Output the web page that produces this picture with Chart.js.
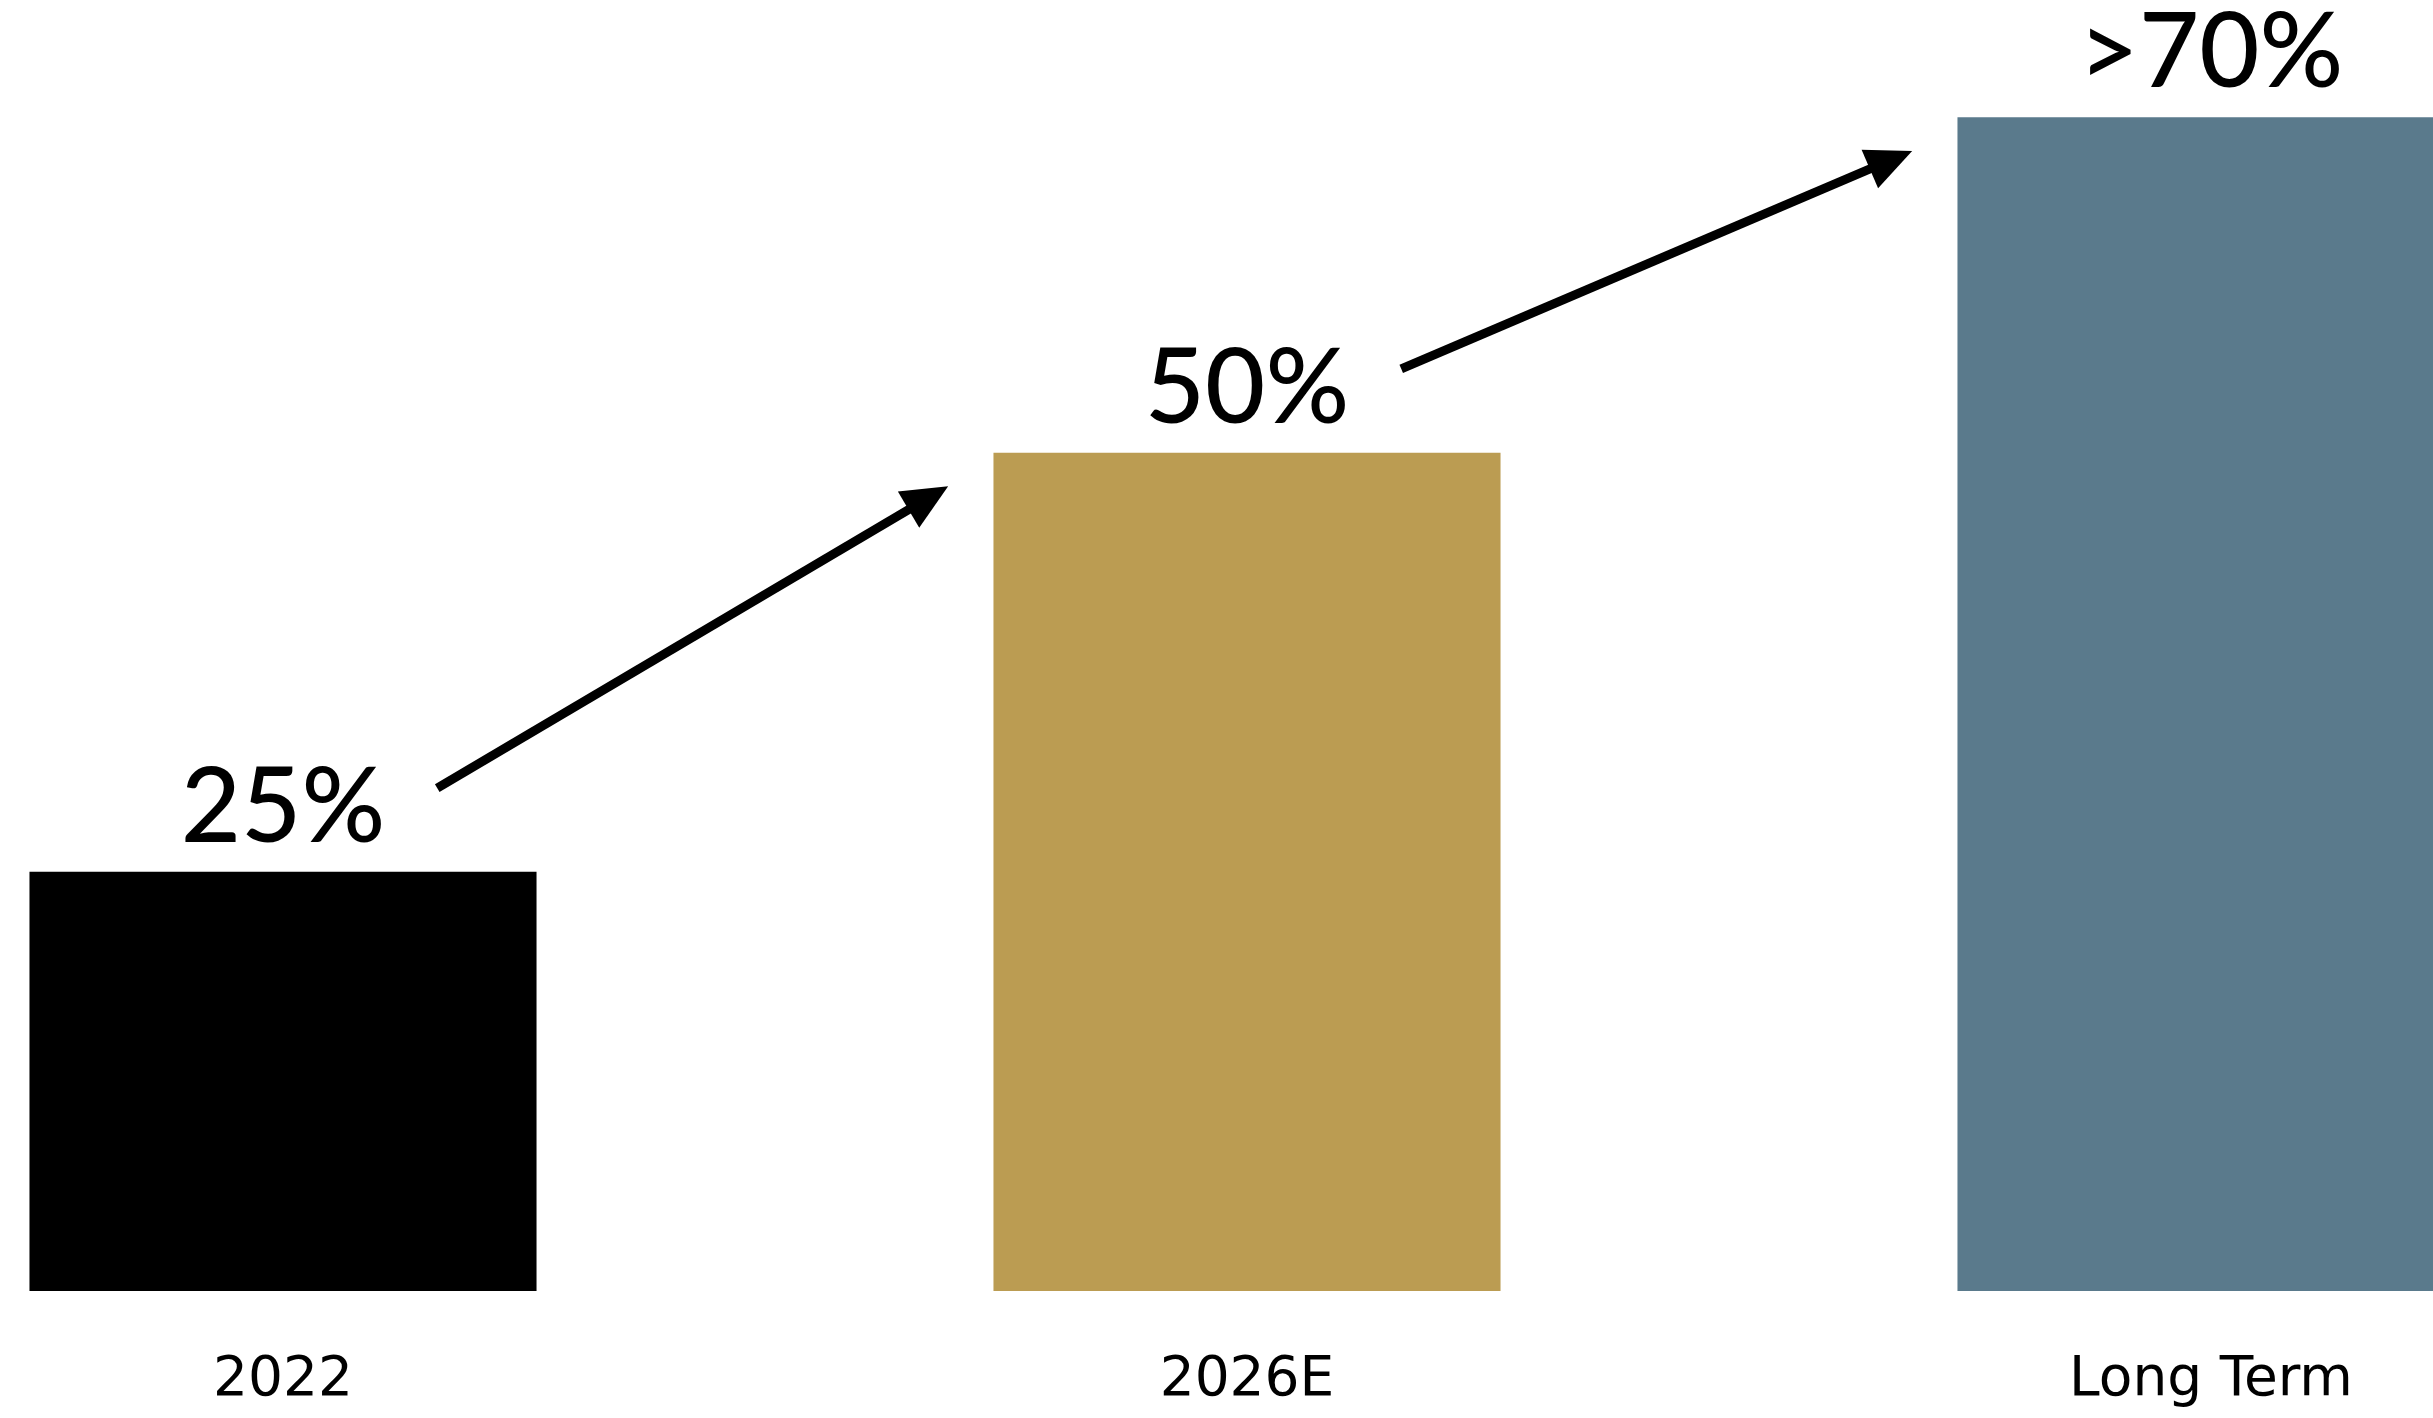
<!DOCTYPE html>
<html>
<head>
<meta charset="utf-8">
<script src="https://cdn.jsdelivr.net/npm/chart.js@4.4.1/dist/chart.umd.min.js"></script>
<style>
  html, body { margin: 0; padding: 0; background: #fff; overflow: hidden; }
  body { width: 2433px; height: 1418px; position: relative; }
  #chart { position: absolute; left: -199px; top: 0; }
</style>
</head>
<body>
<canvas id="chart" width="2892" height="1418"></canvas>
<script>
  // ---- data ----
  const categories = ['2022', '2026E', 'Long Term'];
  const values = [25, 50, 70];
  const valueLabels = ['25%', '50%', '>70%'];
  const barColors = ['#000000', '#BB9C52', '#5A7A8C'];

  // arrows between consecutive bars: offsets in category units / value units
  const arrowFrom = { dx: 0.16, dy: 5 };
  const arrowTo = { dx: -0.31, dy: -2 };

  // value labels above each bar
  const valueLabelPlugin = {
    id: 'valueLabels',
    afterDatasetsDraw(chart) {
      const ctx = chart.ctx;
      const meta = chart.getDatasetMeta(0);
      ctx.save();
      ctx.font = '500 104px Lato';
      ctx.fillStyle = '#000';
      ctx.textAlign = 'center';
      ctx.textBaseline = 'alphabetic';
      meta.data.forEach((bar, i) => {
        ctx.fillText(valueLabels[i], bar.x, bar.y - 30);
      });
      ctx.restore();
    }
  };

  // growth arrows
  const arrowPlugin = {
    id: 'arrows',
    afterDatasetsDraw(chart) {
      const ctx = chart.ctx;
      const xs = chart.scales.x, ys = chart.scales.y;
      ctx.save();
      ctx.strokeStyle = '#000';
      ctx.fillStyle = '#000';
      ctx.lineWidth = 9;
      for (let i = 0; i < values.length - 1; i++) {
        const x1 = xs.getPixelForValue(i + arrowFrom.dx);
        const y1 = ys.getPixelForValue(values[i] + arrowFrom.dy);
        const x2 = xs.getPixelForValue(i + 1 + arrowTo.dx);
        const y2 = ys.getPixelForValue(values[i + 1] + arrowTo.dy);
        const a = Math.atan2(y2 - y1, x2 - x1);
        const head = 46, half = 21;
        const bx = x2 - head * Math.cos(a), by = y2 - head * Math.sin(a);
        ctx.beginPath();
        ctx.moveTo(x1, y1);
        ctx.lineTo(bx + 4 * Math.cos(a), by + 4 * Math.sin(a));
        ctx.stroke();
        ctx.beginPath();
        ctx.moveTo(x2, y2);
        ctx.lineTo(bx + half * Math.sin(a), by - half * Math.cos(a));
        ctx.lineTo(bx - half * Math.sin(a), by + half * Math.cos(a));
        ctx.closePath();
        ctx.fill();
      }
      ctx.restore();
    }
  };

  new Chart(document.getElementById('chart'), {
    type: 'bar',
    data: {
      labels: categories,
      datasets: [{
        data: values,
        backgroundColor: barColors,
        borderWidth: 0,
        categoryPercentage: 1,
        barPercentage: 0.526
      }]
    },
    options: {
      responsive: false,
      animation: false,
      layout: { padding: 0 },
      plugins: {
        legend: { display: false },
        tooltip: { enabled: false }
      },
      scales: {
        x: {
          grid: { display: false, drawTicks: false },
          border: { display: false },
          ticks: {
            color: '#000',
            padding: 57,
            font: { family: 'DejaVu Sans', size: 55 }
          },
          afterFit(scale) { scale.height = 127; }
        },
        y: {
          display: false,
          min: 0,
          max: 77
        }
      }
    },
    plugins: [valueLabelPlugin, arrowPlugin]
  });
</script>
</body>
</html>
